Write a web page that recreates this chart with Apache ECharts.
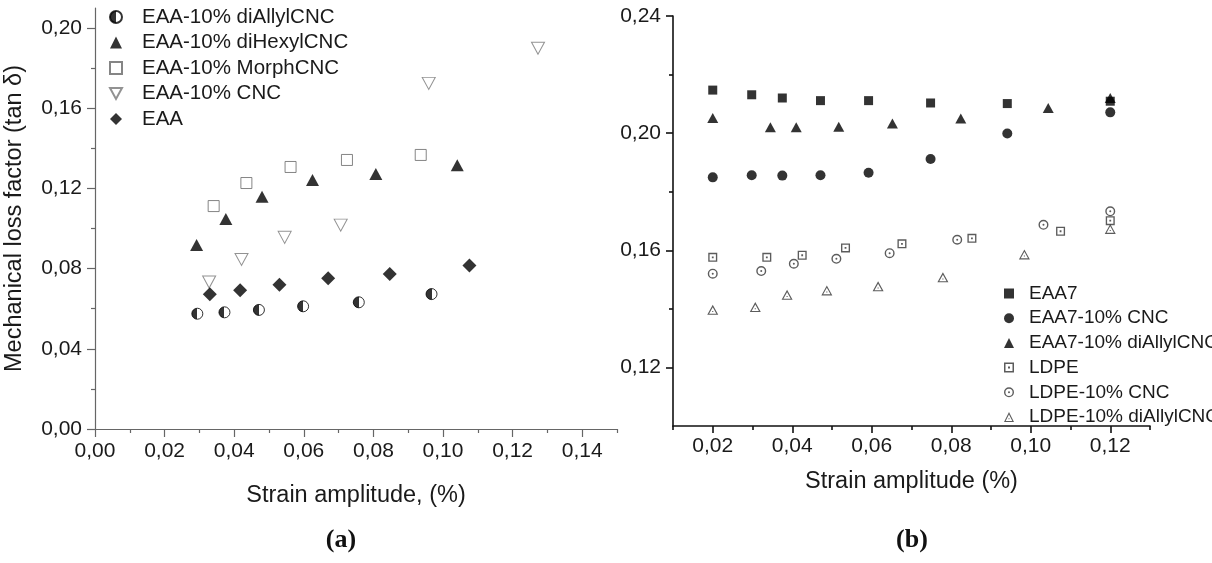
<!DOCTYPE html>
<html>
<head>
<meta charset="utf-8">
<script src="https://cdn.jsdelivr.net/npm/echarts@6/dist/echarts.min.js"></script>
<style>
  html, body { margin: 0; padding: 0; background: #ffffff; }
  #chart { width: 1212px; height: 563px; }
</style>
</head>
<body>
<div id="chart"></div>
<script>
// ---- Panel (a): EAA composites, tan delta vs strain amplitude ----
const aMajorX = [0, 0.02, 0.04, 0.06, 0.08, 0.10, 0.12, 0.14];
const aMinorX = [0.01, 0.03, 0.05, 0.07, 0.09, 0.11, 0.13, 0.15];
const aMajorY = [0, 0.04, 0.08, 0.12, 0.16, 0.20];
const aMinorY = [0.02, 0.06, 0.10, 0.14, 0.18];

const aNames = ['EAA-10% diAllylCNC', 'EAA-10% diHexylCNC', 'EAA-10% MorphCNC', 'EAA-10% CNC', 'EAA'];

const diAllylX = [0.0294, 0.0372, 0.0471, 0.0598, 0.0758, 0.0967];
const diAllylY = [0.0575, 0.0582, 0.0594, 0.0612, 0.0632, 0.0673];
const diHexylX = [0.0292, 0.0376, 0.0480, 0.0625, 0.0807, 0.1041];
const diHexylY = [0.0918, 0.1047, 0.1159, 0.1242, 0.1272, 0.1315];
const morphX = [0.0341, 0.0435, 0.0562, 0.0724, 0.0936];
const morphY = [0.1112, 0.1227, 0.1307, 0.1342, 0.1367];
const cncX = [0.0328, 0.0421, 0.0545, 0.0706, 0.0959, 0.1273];
const cncY = [0.0733, 0.0846, 0.0956, 0.1017, 0.1724, 0.1899];
const eaaX = [0.0330, 0.0417, 0.0530, 0.0670, 0.0847, 0.1076];
const eaaY = [0.0672, 0.0692, 0.0720, 0.0752, 0.0773, 0.0815];

// ---- Panel (b): EAA7 and LDPE composites ----
const bMajorX = [0.02, 0.04, 0.06, 0.08, 0.10, 0.12];
const bMinorX = [0.01, 0.03, 0.05, 0.07, 0.09, 0.11, 0.13];
const bMajorY = [0.12, 0.16, 0.20, 0.24];
const bMinorY = [0.14, 0.18, 0.22];

const bNames = ['EAA7', 'EAA7-10% CNC', 'EAA7-10% diAllylCNC', 'LDPE', 'LDPE-10% CNC', 'LDPE-10% diAllylCNC'];

const eaa7X = [0.0200, 0.0298, 0.0375, 0.0471, 0.0592, 0.0748, 0.0941, 0.1200];
const eaa7Y = [0.2147, 0.2131, 0.2120, 0.2111, 0.2111, 0.2103, 0.2101, 0.2109];
const eaa7CncX = [0.0200, 0.0298, 0.0375, 0.0471, 0.0592, 0.0748, 0.0941, 0.1200];
const eaa7CncY = [0.1849, 0.1856, 0.1855, 0.1856, 0.1865, 0.1912, 0.1999, 0.2071];
const eaa7AllylX = [0.0200, 0.0345, 0.0410, 0.0517, 0.0652, 0.0824, 0.1044, 0.1200];
const eaa7AllylY = [0.2052, 0.2020, 0.2020, 0.2022, 0.2033, 0.2050, 0.2086, 0.2120];
const ldpeX = [0.0200, 0.0336, 0.0425, 0.0534, 0.0676, 0.0852, 0.1075, 0.1200];
const ldpeY = [0.1576, 0.1576, 0.1583, 0.1608, 0.1622, 0.1641, 0.1665, 0.1701];
const ldpeCncX = [0.0200, 0.0322, 0.0404, 0.0511, 0.0645, 0.0815, 0.1032, 0.1200];
const ldpeCncY = [0.1520, 0.1529, 0.1554, 0.1571, 0.1590, 0.1636, 0.1687, 0.1733];
const ldpeAllylX = [0.0200, 0.0307, 0.0387, 0.0487, 0.0616, 0.0779, 0.0984, 0.1200];
const ldpeAllylY = [0.1397, 0.1406, 0.1448, 0.1463, 0.1477, 0.1508, 0.1586, 0.1673];

// ---- helpers ----
const FONT = 'Liberation Sans, Arial, sans-serif';
const zip = (xs, ys) => xs.map((x, i) => [x, ys[i]]);
const comma = v => v.toFixed(2).replace('.', ',');

// open outline shapes with a small centre dot (LDPE family)
const SQUARE_DOT = 'path://M0,0L100,0L100,100L0,100ZM15,15L15,85L85,85L85,15ZM40,40L60,40L60,60L40,60Z';
const CIRCLE_DOT = 'path://M50,0A50,50,0,1,1,50,100A50,50,0,1,1,50,0ZM50,14A36,36,0,1,0,50,86A36,36,0,1,0,50,14ZM50,40A10,10,0,1,1,50,60A10,10,0,1,1,50,40Z';
const TRI_DOT = 'path://M50,0L100,100L0,100ZM50,24L17,89L83,89ZM45,62L55,62L55,72L45,72Z';
// downward-pointing triangle for the legend key of the rotated marker
const TRI_DOWN = 'path://M0,0L100,0L50,92Z';

const halfFill = {
  type: 'linear', x: 0, y: 0, x2: 1, y2: 0,
  colorStops: [
    { offset: 0, color: '#000' }, { offset: 0.5, color: '#000' },
    { offset: 0.5, color: '#fff' }, { offset: 1, color: '#fff' }
  ]
};

function valueAxis(grid, min, max, position, ticks, tickLen, color, lineW, showLine, label, extra) {
  return Object.assign({
    type: 'value', gridIndex: grid, min: min, max: max, position: position,
    axisLine: { show: showLine, onZero: false, lineStyle: { color: color, width: lineW } },
    axisTick: { show: true, customValues: ticks, length: tickLen, lineStyle: { color: color, width: lineW } },
    axisLabel: label ? Object.assign({ customValues: ticks, formatter: comma, fontFamily: FONT, fontSize: 21, color: '#1a1a1a' }, label) : { show: false },
    splitLine: { show: false }
  }, extra || {});
}

const aAxisColor = '#666';
const bAxisColor = '#111';
const titleStyle = { fontFamily: FONT, fontSize: 23.5, color: '#1a1a1a' };

const option = {
  backgroundColor: '#ffffff',
  animation: false,
  grid: [
    { left: 95, right: 595, top: 8, bottom: 134 },
    { left: 673, right: 62, top: 16, bottom: 137 }
  ],
  xAxis: [
    valueAxis(0, 0, 0.15, 'bottom', aMinorX, 4, aAxisColor, 1.2, true, null),
    valueAxis(0, 0, 0.15, 'bottom', aMajorX, 8, aAxisColor, 1.2, false, { margin: 12 }, {
      name: 'Strain amplitude, (%)', nameLocation: 'middle', nameGap: 55, nameTextStyle: titleStyle
    }),
    valueAxis(1, 0.01, 0.13, 'bottom', bMinorX, 4, bAxisColor, 1.6, true, null),
    valueAxis(1, 0.01, 0.13, 'bottom', bMajorX, 7, bAxisColor, 1.6, false, { margin: 10 }, {
      name: 'Strain amplitude (%)', nameLocation: 'middle', nameGap: 44, nameTextStyle: titleStyle
    })
  ],
  yAxis: [
    valueAxis(0, 0, 0.21, 'left', aMinorY, 4, aAxisColor, 1.2, true, null),
    valueAxis(0, 0, 0.21, 'left', aMajorY, 8, aAxisColor, 1.2, false, { margin: 13 }, {
      name: 'Mechanical loss factor (tan δ)', nameLocation: 'middle', nameGap: 68, nameTextStyle: titleStyle
    }),
    valueAxis(1, 0.10, 0.24, 'left', bMinorY, 4, bAxisColor, 1.6, true, null),
    valueAxis(1, 0.10, 0.24, 'left', bMajorY, 7, bAxisColor, 1.6, false, { margin: 12 })
  ],
  legend: [
    {
      data: aNames.map((n, i) => (i === 3 ? { name: n, icon: TRI_DOWN } : n)),
      orient: 'vertical', left: 104, top: 1,
      itemWidth: 12, itemHeight: 12, itemGap: 3.5,
      textStyle: { fontFamily: FONT, fontSize: 20.5, color: '#1a1a1a', lineHeight: 22, padding: [0, 0, 0, 15] },
      selectedMode: false
    },
    {
      data: bNames, orient: 'vertical', left: 999, top: 277.5,
      itemWidth: 10, itemHeight: 10, itemGap: 2.7,
      textStyle: { fontFamily: FONT, fontSize: 19, color: '#1a1a1a', lineHeight: 22, padding: [0, 0, 0, 10] },
      selectedMode: false
    }
  ],
  graphic: [
    { type: 'text', x: 341, y: 540, style: { text: '(a)', align: 'center', verticalAlign: 'middle', font: 'bold 26px "Liberation Serif", serif', fill: '#111' } },
    { type: 'text', x: 912, y: 540, style: { text: '(b)', align: 'center', verticalAlign: 'middle', font: 'bold 26px "Liberation Serif", serif', fill: '#111' } }
  ],
  series: [
    // panel (a)
    { name: aNames[0], type: 'scatter', xAxisIndex: 0, yAxisIndex: 0, data: zip(diAllylX, diAllylY),
      symbol: 'circle', symbolSize: 11,
      itemStyle: { color: halfFill, borderColor: '#000', borderWidth: 1 } },
    { name: aNames[1], type: 'scatter', xAxisIndex: 0, yAxisIndex: 0, data: zip(diHexylX, diHexylY),
      symbol: 'triangle', symbolSize: [13, 12],
      itemStyle: { color: '#000' } },
    { name: aNames[2], type: 'scatter', xAxisIndex: 0, yAxisIndex: 0, data: zip(morphX, morphY),
      symbol: 'rect', symbolSize: 11,
      itemStyle: { color: '#fff', borderColor: '#666', borderWidth: 1 } },
    { name: aNames[3], type: 'scatter', xAxisIndex: 0, yAxisIndex: 0, data: zip(cncX, cncY),
      symbol: 'triangle', symbolRotate: 180, symbolSize: [13, 12],
      itemStyle: { color: '#fff', borderColor: '#777', borderWidth: 1 } },
    { name: aNames[4], type: 'scatter', xAxisIndex: 0, yAxisIndex: 0, data: zip(eaaX, eaaY),
      symbol: 'diamond', symbolSize: 14,
      itemStyle: { color: '#000' } },
    // panel (b)
    { name: bNames[0], type: 'scatter', xAxisIndex: 2, yAxisIndex: 2, data: zip(eaa7X, eaa7Y),
      symbol: 'rect', symbolSize: 9, itemStyle: { color: '#000' } },
    { name: bNames[1], type: 'scatter', xAxisIndex: 2, yAxisIndex: 2, data: zip(eaa7CncX, eaa7CncY),
      symbol: 'circle', symbolSize: 10, itemStyle: { color: '#000' } },
    { name: bNames[2], type: 'scatter', xAxisIndex: 2, yAxisIndex: 2, data: zip(eaa7AllylX, eaa7AllylY),
      symbol: 'triangle', symbolSize: [11, 10], itemStyle: { color: '#000' } },
    { name: bNames[3], type: 'scatter', xAxisIndex: 2, yAxisIndex: 2, data: zip(ldpeX, ldpeY),
      symbol: SQUARE_DOT, symbolSize: 9, itemStyle: { color: '#333' } },
    { name: bNames[4], type: 'scatter', xAxisIndex: 2, yAxisIndex: 2, data: zip(ldpeCncX, ldpeCncY),
      symbol: CIRCLE_DOT, symbolSize: 10, itemStyle: { color: '#333' } },
    { name: bNames[5], type: 'scatter', xAxisIndex: 2, yAxisIndex: 2, data: zip(ldpeAllylX, ldpeAllylY),
      symbol: TRI_DOT, symbolSize: [11, 10], itemStyle: { color: '#333' } }
  ]
};

const chart = echarts.init(document.getElementById('chart'), null, { renderer: 'canvas' });
chart.setOption(option);
</script>
</body>
</html>
